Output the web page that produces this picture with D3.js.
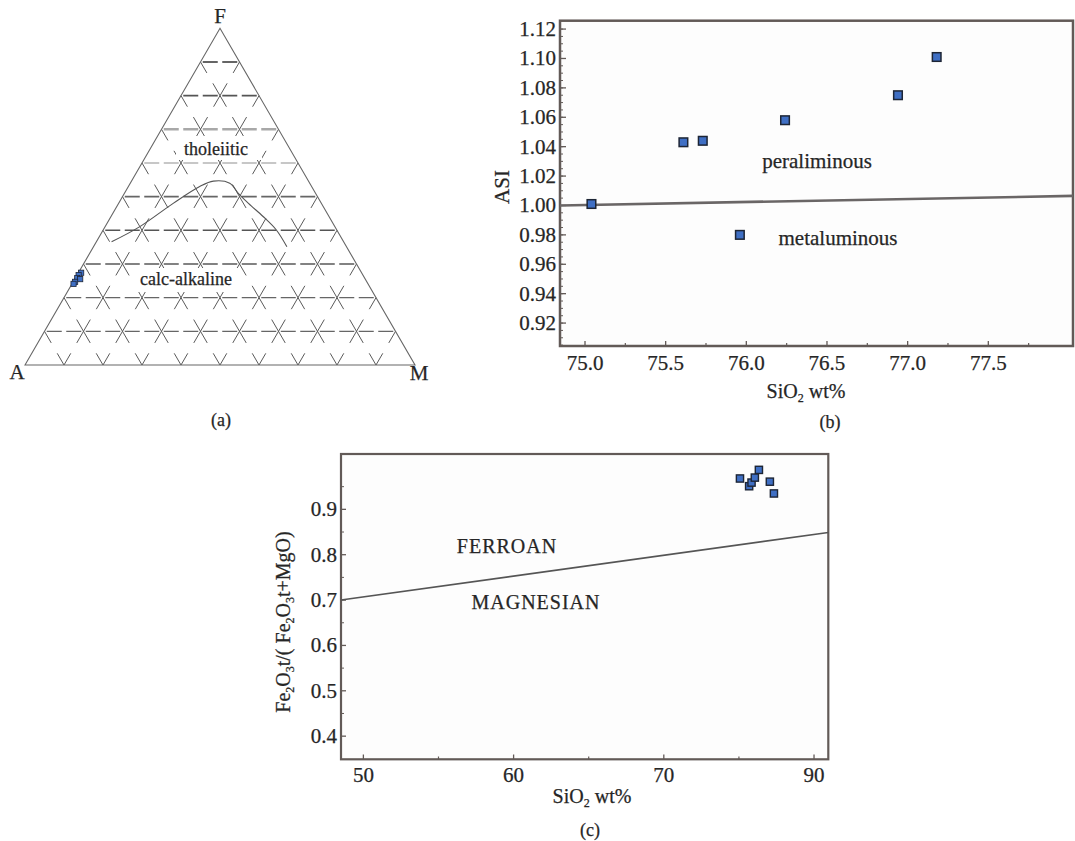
<!DOCTYPE html>
<html><head><meta charset="utf-8">
<script src="https://cdn.jsdelivr.net/npm/d3@7"></script>
<style>body{margin:0;background:#fff}svg{display:block}text{font-family:"Liberation Serif","Times New Roman",serif;fill:#262626;stroke:#262626;stroke-width:0.25px}</style>
</head><body>
<svg id="fig" width="1075" height="841"></svg>
<script>
// ---------- (a) AFM ternary ----------
const gridLevels = [10, 20, 30, 40, 50, 60, 70, 80, 90];
const afmA = [71.9, 72.9, 73.7, 73.1, 74.8, 75.5];
const afmF = [27.4, 26.7, 25.8, 25.5, 24.7, 24.1];
const afmM = [0.7, 0.4, 0.5, 1.4, 0.5, 0.4];
const boundaryA = [59.5, 50.0, 38.0, 28.7, 24.4, 20.5, 19.8, 18.7, 16.9, 15.5, 12.9];
const boundaryF = [36.6, 41.1, 48.0, 53.0, 54.6, 54.0, 51.0, 48.0, 44.1, 40.1, 35.1];
const boundaryM = [3.9, 8.9, 14.0, 18.3, 21.0, 25.5, 29.2, 33.3, 39.0, 44.4, 49.6];

// ---------- (b) ASI vs SiO2 ----------
const asiSiO2 = [75.04, 75.61, 75.73, 75.96, 76.24, 76.94, 77.18];
const asiValue = [1.001, 1.043, 1.044, 0.980, 1.058, 1.075, 1.101];
const asiDividerX = [74.845, 78.025];
const asiDividerY = [1.000, 1.0065];
const bXTicks = [75.0, 75.5, 76.0, 76.5, 77.0, 77.5];
const bXMinor = [75.25, 75.75, 76.25, 76.75, 77.25, 77.75];
const bYTicks = [0.92, 0.94, 0.96, 0.98, 1.00, 1.02, 1.04, 1.06, 1.08, 1.10, 1.12];

// ---------- (c) Fe-number vs SiO2 ----------
const feSiO2 = [75.07, 75.68, 75.84, 76.06, 76.33, 77.06, 77.33];
const feNumber = [0.968, 0.951, 0.959, 0.970, 0.987, 0.961, 0.935];
const feDividerX = [48.51, 80.95];
const feDividerY = [0.700, 0.849];
const cXTicks = [50, 60, 70, 80];
const cXTickLabels = ["50", "60", "70", "90"];
const cXMinor = [55, 65, 75];
const cYTicks = [0.4, 0.5, 0.6, 0.7, 0.8, 0.9];
const cYMinor = [0.45, 0.55, 0.65, 0.75, 0.85, 0.95];

const svg = d3.select("#fig");
const AXIS = "#625a57";
const MFILL = "#3f6fc4", MSTROKE = "#1d2535";

// ================= (a) =================
const tx = d3.scaleLinear().domain([0, 100]).range([25, 415]);
const ty = d3.scaleLinear().domain([0, 100]).range([365, 28.3]);
const proj = (a, f, m) => [tx(m + f / 2), ty(f)];
const gA = svg.append("g");
gridLevels.forEach(v => {
  const p1 = proj(100 - v, 0, v), p2 = proj(0, 100 - v, v);
  gA.append("line").attr("x1", p1[0]).attr("y1", p1[1]).attr("x2", p2[0]).attr("y2", p2[1])
    .attr("stroke", "#5a5a5a").attr("stroke-width", 1).attr("stroke-dasharray", "27,12").attr("stroke-dashoffset", 13.5);
  const q1 = proj(v, 0, 100 - v), q2 = proj(v, 100 - v, 0);
  gA.append("line").attr("x1", q1[0]).attr("y1", q1[1]).attr("x2", q2[0]).attr("y2", q2[1])
    .attr("stroke", "#5a5a5a").attr("stroke-width", 1).attr("stroke-dasharray", "27,12").attr("stroke-dashoffset", 13.5);
});
const hStyle = {10: ["#666", 1.4], 20: ["#666", 1.4], 30: ["#5a5a5a", 1.6], 40: ["#555", 1.6], 50: ["#666", 1.8],
  60: ["#b5b5b5", 1.3], 70: ["#a8a8a8", 2.6], 80: ["#555", 1.8], 90: ["#333", 1.6]};
gridLevels.forEach(v => {
  const p1 = proj(100 - v, v, 0), p2 = proj(0, v, 100 - v);
  gA.append("line").attr("x1", p1[0]).attr("y1", p1[1]).attr("x2", p2[0]).attr("y2", p2[1])
    .attr("stroke", hStyle[v][0]).attr("stroke-width", hStyle[v][1])
    .attr("stroke-dasharray", "15,4.5").attr("stroke-dashoffset", 17.25);
});
gA.append("rect").attr("x", 176).attr("y", 136).attr("width", 86).attr("height", 24).attr("fill", "#fff");
gA.append("rect").attr("x", 134).attr("y", 268).attr("width", 104).attr("height", 24).attr("fill", "#fff");
const tri = [proj(100, 0, 0), proj(0, 100, 0), proj(0, 0, 100)];
gA.append("path").attr("d", "M" + tri.map(p => p.join(",")).join("L") + "Z")
  .attr("fill", "none").attr("stroke", "#666").attr("stroke-width", 1.1);
const bnd = boundaryA.map((a, i) => proj(a, boundaryF[i], boundaryM[i]));
gA.append("path").attr("d", d3.line().curve(d3.curveCatmullRom)(bnd))
  .attr("fill", "none").attr("stroke", "#555").attr("stroke-width", 1.1);
gA.append("text").attr("x", 216).attr("y", 155).attr("text-anchor", "middle").attr("font-size", 18).text("tholeiitic");
gA.append("text").attr("x", 186).attr("y", 285).attr("text-anchor", "middle").attr("font-size", 18).text("calc-alkaline");
gA.append("text").attr("x", 220).attr("y", 23).attr("text-anchor", "middle").attr("font-size", 21).text("F");
gA.append("text").attr("x", 17).attr("y", 379).attr("text-anchor", "middle").attr("font-size", 21).text("A");
gA.append("text").attr("x", 419).attr("y", 380).attr("text-anchor", "middle").attr("font-size", 21).text("M");
afmA.forEach((a, i) => {
  const p = proj(a, afmF[i], afmM[i]);
  gA.append("rect").attr("x", p[0] - 2.6).attr("y", p[1] - 2.6).attr("width", 5.2).attr("height", 5.2)
    .attr("fill", MFILL).attr("stroke", MSTROKE).attr("stroke-width", 0.8);
});
svg.append("text").attr("x", 221).attr("y", 426).attr("text-anchor", "middle").attr("font-size", 18).text("(a)");

// ================= (b) =================
const xB = d3.scaleLinear().domain([74.845, 78.025]).range([560, 1073]);
const yB = d3.scaleLinear().domain([0.9044, 1.1257]).range([346, 20.7]);
const gB = svg.append("g");
gB.append("rect").attr("x", 560).attr("y", 20.7).attr("width", 513).attr("height", 325.3)
  .attr("fill", "#fdfdfd").attr("stroke", AXIS).attr("stroke-width", 2.5);
const bYMinor = d3.range(0, 45).map(i => 0.905 + i * 0.005).filter(v => v < 1.125);
gB.selectAll(".bym").data(bYMinor).join("line").attr("x1", 560).attr("x2", 563)
  .attr("y1", d => yB(d)).attr("y2", d => yB(d)).attr("stroke", AXIS).attr("stroke-width", 1);
gB.selectAll(".byM").data(bYTicks).join("line").attr("x1", 560).attr("x2", 566)
  .attr("y1", d => yB(d)).attr("y2", d => yB(d)).attr("stroke", AXIS).attr("stroke-width", 1.3);
gB.selectAll(".byl").data(bYTicks).join("text").attr("x", 556).attr("y", d => yB(d) + 7)
  .attr("text-anchor", "end").attr("font-size", 21).text(d => d3.format(".2f")(d));
gB.selectAll(".bxm").data(bXMinor).join("line").attr("y1", 346).attr("y2", 343)
  .attr("x1", d => xB(d)).attr("x2", d => xB(d)).attr("stroke", AXIS).attr("stroke-width", 1.2);
gB.selectAll(".bxM").data(bXTicks).join("line").attr("y1", 346).attr("y2", 341)
  .attr("x1", d => xB(d)).attr("x2", d => xB(d)).attr("stroke", AXIS).attr("stroke-width", 1.3);
gB.selectAll(".bxl").data(bXTicks).join("text").attr("x", d => xB(d)).attr("y", 370)
  .attr("text-anchor", "middle").attr("font-size", 21).text(d => d3.format(".1f")(d));
gB.append("line").attr("x1", xB(asiDividerX[0])).attr("y1", yB(asiDividerY[0]))
  .attr("x2", xB(asiDividerX[1])).attr("y2", yB(asiDividerY[1])).attr("stroke", "#6a6666").attr("stroke-width", 2.6);
asiSiO2.forEach((x, i) => {
  gB.append("rect").attr("x", xB(x) - 4.3).attr("y", yB(asiValue[i]) - 4.3).attr("width", 8.6).attr("height", 8.6)
    .attr("fill", MFILL).attr("stroke", MSTROKE).attr("stroke-width", 1.5);
});
gB.append("text").attr("x", 817).attr("y", 168).attr("text-anchor", "middle").attr("font-size", 21).text("peraliminous");
gB.append("text").attr("x", 838).attr("y", 245).attr("text-anchor", "middle").attr("font-size", 21).text("metaluminous");
gB.append("text").attr("transform", "translate(509,187) rotate(-90)").attr("text-anchor", "middle").attr("font-size", 21).text("ASI");
const bxt = gB.append("text").attr("x", 806).attr("y", 398).attr("text-anchor", "middle").attr("font-size", 20);
bxt.append("tspan").text("SiO");
bxt.append("tspan").attr("dy", 4).attr("font-size", 12).text("2");
bxt.append("tspan").attr("dy", -4).text(" wt%");
svg.append("text").attr("x", 830).attr("y", 428).attr("text-anchor", "middle").attr("font-size", 18).text("(b)");

// ================= (c) =================
const xC = d3.scaleLinear().domain([48.51, 80.95]).range([341, 828.3]);
const yC = d3.scaleLinear().domain([0.349, 1.022]).range([759.3, 454]);
const gC = svg.append("g");
gC.append("rect").attr("x", 341).attr("y", 454).attr("width", 487.3).attr("height", 305.3)
  .attr("fill", "#fdfdfd").attr("stroke", AXIS).attr("stroke-width", 2.2);
gC.selectAll(".cym").data(cYMinor).join("line").attr("x1", 341).attr("x2", 344)
  .attr("y1", d => yC(d)).attr("y2", d => yC(d)).attr("stroke", AXIS).attr("stroke-width", 1);
gC.selectAll(".cyM").data(cYTicks).join("line").attr("x1", 341).attr("x2", 346)
  .attr("y1", d => yC(d)).attr("y2", d => yC(d)).attr("stroke", AXIS).attr("stroke-width", 1.3);
gC.selectAll(".cyl").data(cYTicks).join("text").attr("x", 337).attr("y", d => yC(d) + 7)
  .attr("text-anchor", "end").attr("font-size", 21).text(d => d3.format(".1f")(d));
gC.selectAll(".cxm").data(cXMinor).join("line").attr("y1", 759.3).attr("y2", 756.5)
  .attr("x1", d => xC(d)).attr("x2", d => xC(d)).attr("stroke", AXIS).attr("stroke-width", 1.2);
gC.selectAll(".cxM").data(cXTicks).join("line").attr("y1", 759.3).attr("y2", 754.5)
  .attr("x1", d => xC(d)).attr("x2", d => xC(d)).attr("stroke", AXIS).attr("stroke-width", 1.3);
gC.selectAll(".cxl").data(cXTicks).join("text").attr("x", d => xC(d)).attr("y", 782)
  .attr("text-anchor", "middle").attr("font-size", 21).text((d, i) => cXTickLabels[i]);
gC.append("line").attr("x1", xC(feDividerX[0])).attr("y1", yC(feDividerY[0]))
  .attr("x2", xC(feDividerX[1])).attr("y2", yC(feDividerY[1])).attr("stroke", "#555").attr("stroke-width", 1.6);
feSiO2.forEach((x, i) => {
  gC.append("rect").attr("x", xC(x) - 3.6).attr("y", yC(feNumber[i]) - 3.6).attr("width", 7.2).attr("height", 7.2)
    .attr("fill", MFILL).attr("stroke", MSTROKE).attr("stroke-width", 1.4);
});
gC.append("text").attr("x", 507).attr("y", 553).attr("text-anchor", "middle").attr("font-size", 20).attr("letter-spacing", 1).text("FERROAN");
gC.append("text").attr("x", 536).attr("y", 609).attr("text-anchor", "middle").attr("font-size", 20).attr("letter-spacing", 1).text("MAGNESIAN");
const cyt = gC.append("text").attr("transform", "translate(290,622) rotate(-90)").attr("text-anchor", "middle").attr("font-size", 20);
cyt.append("tspan").text("Fe");
cyt.append("tspan").attr("dy", 4).attr("font-size", 12).text("2");
cyt.append("tspan").attr("dy", -4).text("O");
cyt.append("tspan").attr("dy", 4).attr("font-size", 12).text("3");
cyt.append("tspan").attr("dy", -4).text("t/( Fe");
cyt.append("tspan").attr("dy", 4).attr("font-size", 12).text("2");
cyt.append("tspan").attr("dy", -4).text("O");
cyt.append("tspan").attr("dy", 4).attr("font-size", 12).text("3");
cyt.append("tspan").attr("dy", -4).text("t+MgO)");
const cxt = gC.append("text").attr("x", 592).attr("y", 803).attr("text-anchor", "middle").attr("font-size", 20);
cxt.append("tspan").text("SiO");
cxt.append("tspan").attr("dy", 4).attr("font-size", 12).text("2");
cxt.append("tspan").attr("dy", -4).text(" wt%");
svg.append("text").attr("x", 590).attr("y", 836).attr("text-anchor", "middle").attr("font-size", 18).text("(c)");
</script>
</body></html>
